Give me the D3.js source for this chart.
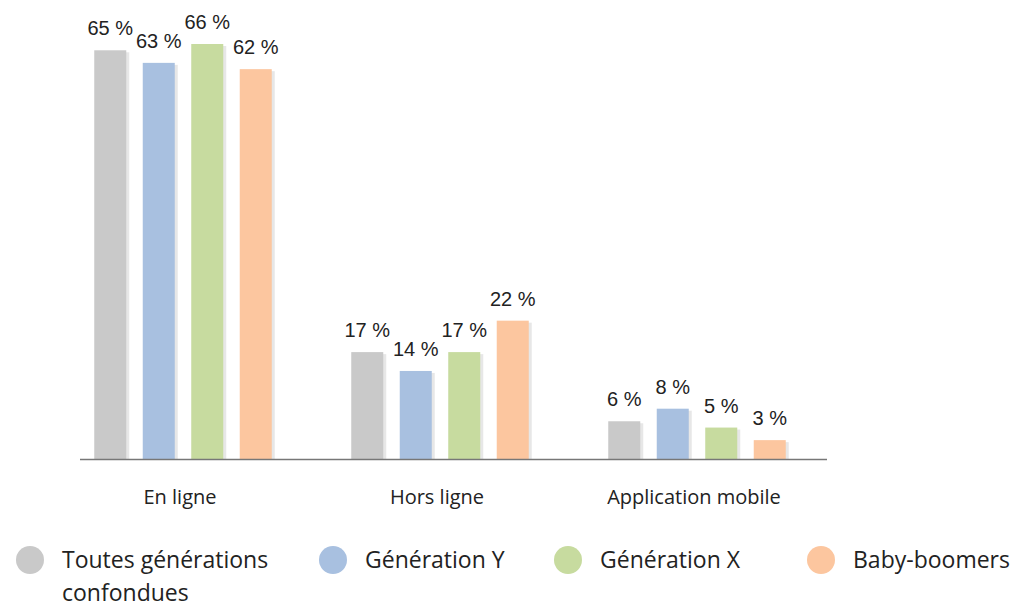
<!DOCTYPE html>
<html><head><meta charset="utf-8">
<script src="https://cdn.jsdelivr.net/npm/d3@7"></script>
<style>body{margin:0;background:#fff}</style>
</head><body>
<svg id="c" width="1024" height="610"></svg>
<script>
var categories = ["En ligne", "Hors ligne", "Application mobile"];
var series = ["Toutes générations confondues", "Génération Y", "Génération X", "Baby-boomers"];
var values = [
  [65, 63, 66, 62],
  [17, 14, 17, 22],
  [6, 8, 5, 3]
];
var colors = ["#c9c9c9", "#a8c0e0", "#c7db9f", "#fcc69f"];

var svg = d3.select("#c");
var x0 = d3.scaleBand().domain(categories).range([54.5, 825.5]);
var inner = 177.5;
var x1 = d3.scaleBand().domain(series).range([0, inner]).paddingInner(0.34);
var y = d3.scaleLinear().domain([0, 66]).range([459, 44]);

var g = svg.selectAll("g.grp").data(values).enter().append("g")
  .attr("transform", function(d, i){ return "translate(" + (x0(categories[i]) + (x0.bandwidth() - inner) / 2) + ",0)"; });

g.selectAll("rect.shadow").data(function(d){ return d; }).enter().append("rect")
  .attr("x", function(d, j){ return x1(series[j]) + 3; })
  .attr("y", function(d){ return y(d) + 2; })
  .attr("width", x1.bandwidth())
  .attr("height", function(d){ return y(0) - y(d) - 2; })
  .attr("fill", "#bbb").attr("opacity", 0.35);

g.selectAll("rect.bar").data(function(d){ return d; }).enter().append("rect")
  .attr("x", function(d, j){ return x1(series[j]); })
  .attr("y", function(d){ return y(d); })
  .attr("width", x1.bandwidth())
  .attr("height", function(d){ return y(0) - y(d); })
  .attr("fill", function(d, j){ return colors[j]; });

g.selectAll("text").data(function(d){ return d; }).enter().append("text")
  .attr("x", function(d, j){ return x1(series[j]) + x1.bandwidth() / 2; })
  .attr("y", function(d){ return y(d) - 15; })
  .attr("text-anchor", "middle")
  .attr("font-family", "Liberation Sans, Arial").attr("font-size", 20).attr("fill", "#222")
  .text(function(d){ return d + " %"; });

svg.append("line").attr("x1", 80).attr("x2", 827).attr("y1", y(0) + 0.5).attr("y2", y(0) + 0.5)
  .attr("stroke", "#777").attr("stroke-width", 1.5);

svg.selectAll("text.cat").data(categories).enter().append("text")
  .attr("x", function(d){ return x0(d) + x0.bandwidth() / 2 - 3; })
  .attr("y", 504).attr("text-anchor", "middle")
  .attr("font-family", "Open Sans").attr("font-size", 20).attr("fill", "#222")
  .text(function(d){ return d; });

var legX = [30, 333, 568, 821];
var lg = svg.selectAll("g.leg").data(series).enter().append("g")
  .attr("transform", function(d, i){ return "translate(" + legX[i] + ",560)"; });
lg.append("circle").attr("r", 14).attr("fill", function(d, i){ return colors[i]; });
var lt = lg.append("text").attr("x", 32).attr("y", 8)
  .attr("font-family", "Open Sans").attr("font-size", 23).attr("fill", "#222");
lt.each(function(d, i){
  var t = d3.select(this);
  if (i === 0) {
    t.append("tspan").attr("x", 32).attr("dy", 0).text("Toutes générations");
    t.append("tspan").attr("x", 32).attr("dy", 33).text("confondues");
  } else t.text(d);
});
</script>
</body></html>
